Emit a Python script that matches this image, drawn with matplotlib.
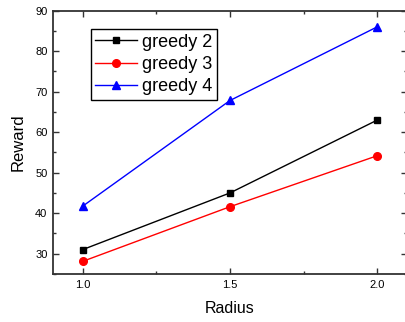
import matplotlib
matplotlib.use("Agg")
import matplotlib.pyplot as plt
from matplotlib.ticker import MultipleLocator

plt.rcParams['font.family'] = ['Liberation Sans', 'DejaVu Sans']

radius = [1.0, 1.5, 2.0]
greedy2 = [31.0, 45.0, 63.0]
greedy3 = [28.1, 41.6, 54.2]
greedy4 = [41.7, 67.8, 86.0]

fig = plt.figure(figsize=(4.06, 3.22), dpi=100)
ax = fig.add_axes([53 / 406, 1 - 274 / 322, 354 / 406, (274 - 10.5) / 322])

ax.plot(radius, greedy2, color='black', lw=1.0, marker='s', ms=5, label='greedy 2')
ax.plot(radius, greedy3, color='red', lw=1.0, marker='o', ms=5.5, label='greedy 3')
ax.plot(radius, greedy4, color='blue', lw=1.0, marker='^', ms=6, label='greedy 4')

ax.set_xlim(0.9, 2.1)
ax.set_ylim(25, 90)
ax.xaxis.set_major_locator(MultipleLocator(0.5))
ax.xaxis.set_minor_locator(MultipleLocator(0.25))
ax.yaxis.set_major_locator(MultipleLocator(10))
ax.yaxis.set_minor_locator(MultipleLocator(5))
ax.xaxis.set_major_formatter(plt.FormatStrFormatter('%.1f'))
ax.set_yticks([30, 40, 50, 60, 70, 80, 90])

for s in ax.spines.values():
    s.set_linewidth(1.3)
    s.set_color('#333333')
ax.tick_params(which='both', direction='in', top=True, right=True, color='#333333',
               labelsize=8, width=1.0)
ax.tick_params(which='major', length=4.5, pad=4)
ax.tick_params(which='minor', length=2.5)

ax.set_xlabel('Radius', fontsize=11.5, labelpad=8)
ax.set_ylabel('Reward', fontsize=12, labelpad=7)

leg = ax.legend(loc='upper left', bbox_to_anchor=(90.7 / 406, 1 - 29 / 322),
                bbox_transform=fig.transFigure, fontsize=13, frameon=True,
                fancybox=False, edgecolor='black', framealpha=1,
                handlelength=2.3, handletextpad=0.3, labelspacing=0.3,
                borderpad=0.25, borderaxespad=0)
leg.get_frame().set_linewidth(1.0)

fig.savefig('out.png', dpi=100)
